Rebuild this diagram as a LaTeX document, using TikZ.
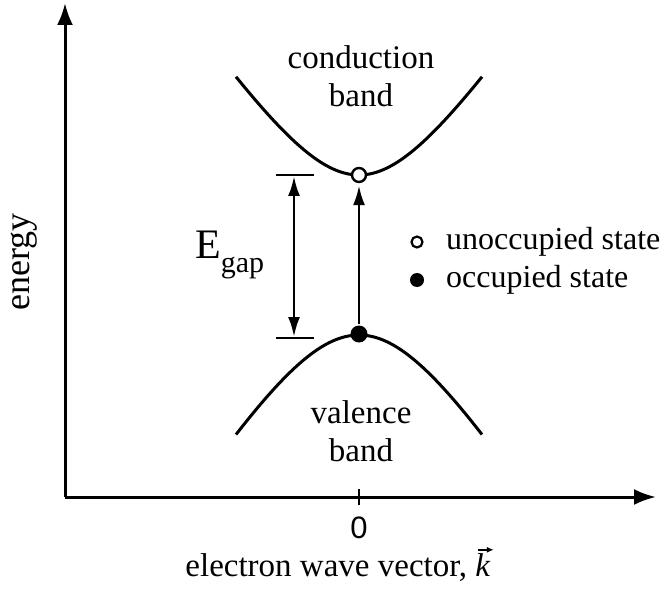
\documentclass[tikz,border=0pt]{standalone}
\usepackage{fontspec}
\setmainfont{Liberation Serif}
\newfontfamily\zerofont{Liberation Sans}
\usetikzlibrary{arrows.meta}
\begin{document}
\begin{tikzpicture}[x=1pt,y=-1pt,
  lbl/.style={font=\fontsize{33}{38}\selectfont, align=center, inner sep=0pt},
  axis/.style={line width=3pt, -{Latex[length=22pt,width=16pt]}},
  band/.style={line width=3pt},
  gaparrow/.style={line width=2.8pt, {Latex[length=20pt,width=12pt]}-{Latex[length=20pt,width=12pt]}},
  uparrow/.style={line width=2.8pt, -{Latex[length=20pt,width=12pt]}},
  vecarrow/.style={line width=1.6pt, -{Latex[length=7pt,width=6pt]}},
  bar/.style={line width=2.8pt},
  opendot/.style={circle, draw, line width=2.4pt, fill=white, minimum size=14pt, inner sep=0pt},
  fulldot/.style={circle, fill=black, minimum size=17pt, inner sep=0pt}]
\useasboundingbox (0,0) rectangle (669,596);
% axes
\coordinate (O) at (65,497);
\coordinate (ytip) at (65,3);
\coordinate (xtip) at (656,497);
\draw[axis] (O) -- (ytip);
\draw[axis] (O) -- (xtip);
\coordinate (tickt) at (359,489);
\coordinate (tickb) at (359,505);
\draw[line width=2.6pt] (tickt) -- (tickb);
\node[lbl, font=\fontsize{31}{36}\selectfont\zerofont] (zero) at (359,528) {0};
\node[lbl] (xlabel) at (338,568) {electron wave vector, \textit{k}};
\coordinate (va) at ([xshift=-13pt,yshift=4pt]xlabel.north east);
\coordinate (vb) at ([xshift=3pt,yshift=4pt]xlabel.north east);
\draw[vecarrow] (va) -- (vb);
\node[lbl, rotate=90, font=\fontsize{36}{40}\selectfont] (ylabel) at (24,262) {energy};
% bands
\draw[band] plot[domain=-123:123, samples=80] ({359+\x}, {175 - 1.472*(100*sqrt(0.64+(\x/100)*(\x/100))-80)});
\draw[band] plot[domain=-123:123, samples=80] ({359+\x}, {335 + 1.595*(100*sqrt(0.81+(\x/100)*(\x/100))-90)});
\node[lbl] (cb) at (361,76) {conduction\\band};
\node[lbl] (vbnd) at (361,431) {valence\\band};
% states
\node[opendot] (hole) at (359,175) {};
\node[fulldot] (elec) at (359,334) {};
\draw[uparrow, shorten >=2pt, shorten <=1pt] (elec) -- (hole);
% gap
\coordinate (gtl) at (276,175);
\coordinate (gtr) at (314,175);
\coordinate (gbl) at (276,338);
\coordinate (gbr) at (314,338);
\coordinate (gt) at (294,176);
\coordinate (gb) at (294,337);
\draw[bar] (gtl) -- (gtr);
\draw[bar] (gbl) -- (gbr);
\draw[gaparrow] (gt) -- (gb);
\node[lbl, anchor=west] (egap) at (195,255) {\fontsize{42}{46}\selectfont E\raisebox{-0.32em}{\fontsize{30}{34}\selectfont gap}};
% legend
\node[opendot, minimum size=11pt, line width=2.2pt] (lopen) at (417,242) {};
\node[fulldot, minimum size=14pt] (lfull) at (417,280) {};
\node[lbl, anchor=west, font=\fontsize{32}{36}\selectfont] (ltext1) at (446,242) {unoccupied state};
\node[lbl, anchor=west, font=\fontsize{32}{36}\selectfont] (ltext2) at (446,280) {occupied state};
\end{tikzpicture}
\end{document}
